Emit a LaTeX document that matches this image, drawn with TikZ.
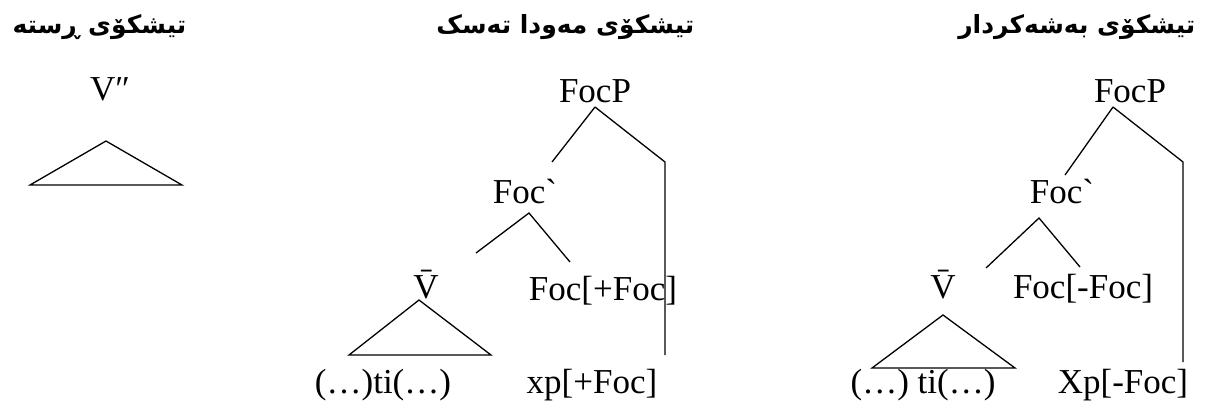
\documentclass[tikz,border=0pt]{standalone}
\usepackage{fontspec}
\setmainfont{Liberation Serif}
\newfontfamily\kurdfont[Script=Arabic]{DejaVu Sans}
\newfontfamily\gravefont{Liberation Serif}
\TeXXeTstate=1
\usetikzlibrary{positioning}
\newcommand\grv{{\gravefont\symbol{96}}}

\begin{document}
\begin{tikzpicture}[x=1pt, y=-1pt, line width=1.3pt,
   lbl/.style={inner sep=0pt, anchor=base, font=\fontsize{35}{40}\selectfont},
   head/.style={inner sep=0pt, anchor=base east, font=\kurdfont\bfseries\fontsize{25}{30}\selectfont}]
  \useasboundingbox (0,0) rectangle (1207,408);
  % column headers
  \node[head] (headA) at (187,33) {\beginR تیشکۆی ڕستە\endR};
  \node[head] (headB) at (695,33) {\beginR تیشکۆی مەودا تەسک\endR};
  \node[head] (headC) at (1196,33) {\beginR تیشکۆی بەشەکردار\endR};
  % sentence focus
  \node[lbl] (vtopA) at (110,100) {V″};
  \coordinate (triA) at (106,141);
  \draw (triA) -- ++(-76,44) -- ++(152,0) -- cycle;
  % narrow focus
  \node[lbl] (focpB) at (595,102) {FocP};
  \node[lbl] (focbarB) at (525,203) {Foc\grv};
  \node[lbl] (vbarB) at (426,298) {\=V};
  \node[lbl] (focB) at (603,300) {Foc[+Foc]};
  \node[lbl] (tiB) at (383,393) {(…)ti(…)};
  \node[lbl] (xpB) at (592,393) {xp[+Foc]};
  \coordinate (apexB) at (595,107);
  \coordinate (legB) at (552,162);
  \coordinate (bendB) at (665,162);
  \coordinate (footB) at (665,355);
  \draw (apexB) -- (legB);
  \draw (apexB) -- (bendB) -- (footB);
  \coordinate (apexB2) at (529,213);
  \draw (476,253) -- (apexB2) -- (570,262);
  \coordinate (triB) at (419,300);
  \draw (triB) -- (349,355) -- (491,355) -- cycle;
  % partitive focus
  \node[lbl] (focpC) at (1130,102) {FocP};
  \node[lbl] (focbarC) at (1062,203) {Foc\grv};
  \node[lbl] (vbarC) at (943,298) {\=V};
  \node[lbl] (focC) at (1083,298) {Foc[-Foc]};
  \node[lbl] (tiC) at (923,393) {(…) ti(…)};
  \node[lbl] (xpC) at (1123,393) {Xp[-Foc]};
  \coordinate (apexC) at (1113,107);
  \coordinate (legC) at (1065,175);
  \coordinate (bendC) at (1183,162);
  \coordinate (footC) at (1183,362);
  \draw (apexC) -- (legC);
  \draw (apexC) -- (bendC) -- (footC);
  \coordinate (apexC2) at (1039,218);
  \draw (986,268) -- (apexC2) -- (1080,267);
  \coordinate (triC) at (943,315);
  \draw (triC) -- (872,368) -- (1015,368) -- cycle;
\end{tikzpicture}
\end{document}
